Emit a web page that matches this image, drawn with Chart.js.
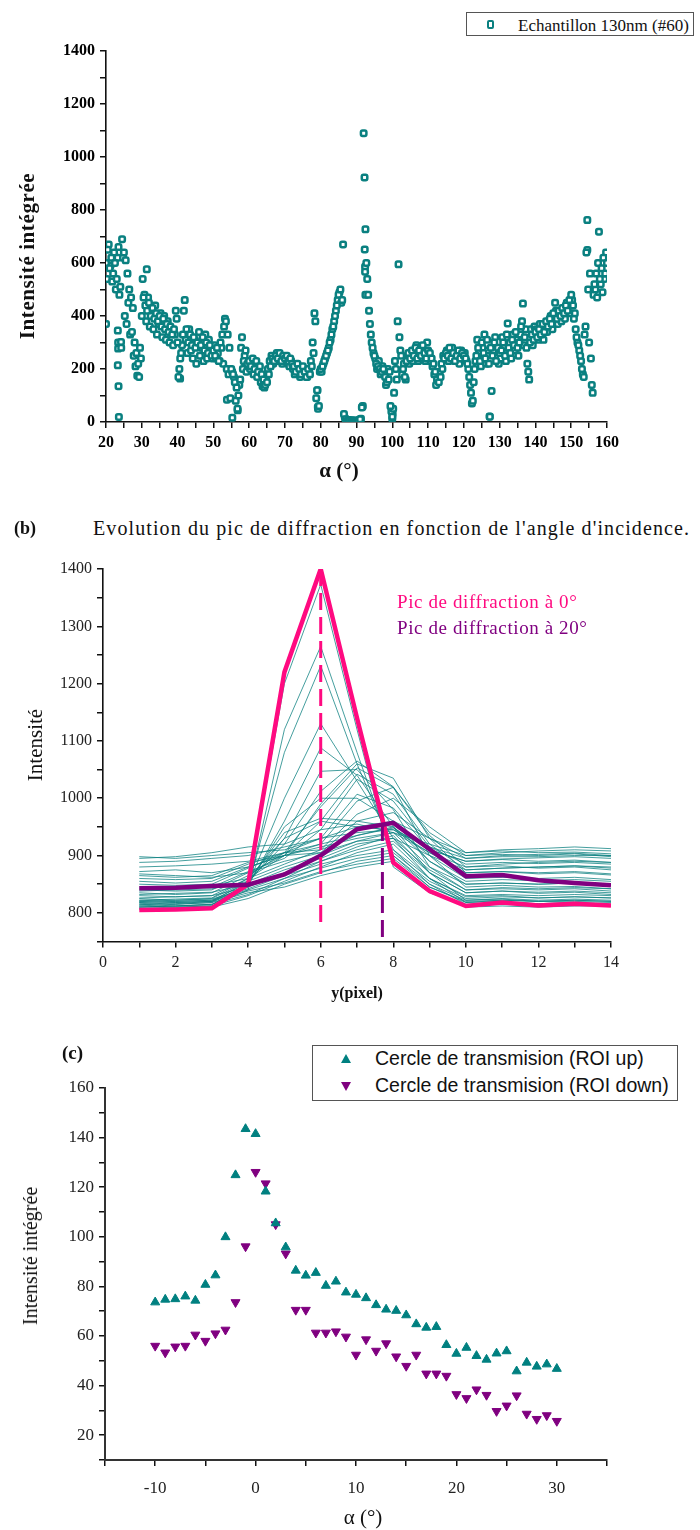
<!DOCTYPE html>
<html>
<head>
<meta charset="utf-8">
<script src="https://cdn.jsdelivr.net/npm/chart.js@4.4.1/dist/chart.umd.min.js"></script>
<style>
  html, body { margin: 0; padding: 0; background: #fff; }
  body { width: 700px; height: 1530px; overflow: hidden; position: relative;
         font-family: "Liberation Serif", "DejaVu Serif", serif; color: #111; }
  canvas { position: absolute; left: 0; }
  .txt { position: absolute; white-space: nowrap; line-height: 1; }
  .ctr { transform: translate(-50%, -50%); }
  .rot { transform: translate(-50%, -50%) rotate(-90deg); }
  .lft { transform: translate(0, -50%); }
  .legend { position: absolute; border: 1px solid #555; background: #fff; box-sizing: border-box; }
</style>
</head>
<body>

<canvas id="chartA" width="700" height="490" style="top:0px"></canvas>
<canvas id="chartB" width="700" height="470" style="top:545px"></canvas>
<canvas id="chartC" width="700" height="515" style="top:1030px"></canvas>

<!-- panel (a) texts -->
<div class="legend" style="left:466px; top:12px; width:228px; height:24px;">
  <span style="position:absolute; left:20px; top:7px; width:3px; height:5px; border:2.5px solid #0a8080; border-radius:2px; background:#fff;"></span>
  <span class="txt lft" style="left:51px; top:12px; font-size:17px;">Echantillon 130nm (#60)</span>
</div>
<div class="txt rot" style="left:27px; top:256px; font-size:21px; font-weight:bold; letter-spacing:0.6px;">Intensité intégrée</div>
<div class="txt ctr" style="left:339px; top:470px; font-size:21px; font-weight:bold;">α (°)</div>

<!-- panel (b) texts -->
<div class="txt lft" style="left:14px; top:528px; font-size:18px; font-weight:bold;">(b)</div>
<div class="txt lft" style="left:93px; top:528px; font-size:20px; letter-spacing:1.1px;">Evolution du pic de diffraction en fonction de l'angle d'incidence.</div>
<div class="txt lft" style="left:397px; top:601px; font-size:19px; letter-spacing:0.6px; color:#ff0a80;">Pic de diffraction à 0°</div>
<div class="txt lft" style="left:397px; top:627px; font-size:19px; letter-spacing:0.6px; color:#800080;">Pic de diffraction à 20°</div>
<div class="txt rot" style="left:35px; top:745px; font-size:21px;">Intensité</div>
<div class="txt ctr" style="left:357px; top:993px; font-size:16px; font-weight:bold;">y(pixel)</div>

<!-- panel (c) texts -->
<div class="txt lft" style="left:62px; top:1052px; font-size:19px; font-weight:bold;">(c)</div>
<div class="legend" style="left:312px; top:1045px; width:366px; height:56px; font-family:'Liberation Sans', Arial, sans-serif;">
  <span style="position:absolute; left:28px; top:8px; width:0; height:0; border-left:5px solid transparent; border-right:5px solid transparent; border-bottom:9px solid #008080;"></span>
  <span class="txt lft" style="left:62px; top:13px; font-size:19.5px;">Cercle de transmision (ROI up)</span>
  <span style="position:absolute; left:28px; top:36px; width:0; height:0; border-left:5px solid transparent; border-right:5px solid transparent; border-top:9px solid #800080;"></span>
  <span class="txt lft" style="left:62px; top:40px; font-size:19.5px;">Cercle de transmision (ROI down)</span>
</div>
<div class="txt rot" style="left:30px; top:1256px; font-size:20px;">Intensité intégrée</div>
<div class="txt ctr" style="left:363px; top:1517px; font-size:21px;">α (°)</div>

<script>
// ================================
// DATA (a) : integrated intensity vs alpha
// band1 : alpha = 20, 20.5, ... 160   /   band2 : alpha = 20.25, 20.75, ... 159.75
// ================================
const band1 = [
  600, 650, 580, 620, 560, 600, 540, 660, 510,
  690, 640, 610, 560, 500, 470,
  430, 300, 260, 220, 280, 400,
  470, 440, 420, 450, 400, 430, 390, 410, 380, 400, 360, 390, 350, 370, 340, 360, 330, 350, 420, 300,
  200, 260, 330, 460, 350, 300, 330, 290, 320, 280, 300, 340, 290, 320, 270, 300, 260, 290, 250, 270,
  250, 280, 230, 300, 330, 360, 380, 330, 280, 200, 180, 150, 130, 100, 160, 320, 230, 270, 220, 230,
  210, 240, 200, 230, 190, 210, 180, 160, 140, 150, 180, 210, 240, 230, 250, 240, 260, 230, 250, 240,
  250, 230, 240, 220, 210, 190, 220, 200, 180, 210, 190, 170, 200, 180, 210, 260, 380, 120, 60, 200,
  210, 230, 250, 270, 300, 330, 360, 400, 440, 480, 500, 460, 30, 10, 5, 8, 5, 3, 6, 4,
  5, 10, 55, 1090, 727, 540, 420, 330, 280, 250, 220, 210, 200, 190, 200, 170, 150, 160, 60, 20,
  110, 200, 380, 320, 250, 200, 170, 230, 260, 240, 270, 250, 280, 240, 270, 250, 290, 260, 240, 270,
  260, 240, 220, 190, 160, 150, 170, 200, 240, 260, 250, 280, 240, 260, 230, 250, 270, 240, 260, 250,
  240, 220, 170, 110, 80, 200, 250, 280, 230, 300, 260, 240, 310, 220, 280, 250, 300, 230, 280, 260,
  270, 300, 250, 330, 280, 260, 310, 290, 340, 280, 300, 360, 447, 320, 280, 190, 300, 330, 310, 340,
  320, 350, 330, 370, 340, 380, 360, 390, 370, 410, 450, 390, 420, 400, 430, 410, 440, 420, 460, 480,
  440, 410, 320, 290, 250, 200, 170, 360, 762, 300, 240, 110, 520, 560, 600, 540, 580, 620, 560, 600
];
const band2 = [
  540, 670, 590, 530, 640, 500, 620, 480,
  280, 620, 400, 370, 450, 330,
  340, 250, 210, 175, 170, 240,
  540, 480, 380, 470, 360, 420, 350, 440, 330, 370, 410, 320, 400, 310, 380, 300, 340, 290, 330, 390,
  170, 240, 290, 420, 310, 260, 350, 270, 240, 310, 220, 300, 250, 280, 230, 330, 240, 310, 280, 240,
  290, 240, 260, 230, 280, 220, 390, 200, 180, 90, 190, 170, 80, 50, 140, 280, 200, 250, 190, 210,
  200, 220, 180, 210, 170, 200, 150, 135, 130, 170, 200, 230, 250, 220, 240, 260, 230, 250, 220, 230,
  240, 220, 210, 230, 200, 180, 210, 190, 170, 200, 180, 190, 170, 200, 230, 300, 410, 90, 50, 190,
  190, 220, 240, 260, 280, 310, 350, 380, 420, 460, 490, 450, 670, 15, 8, 6, 4, 7, 5, 3,
  6, 8, 12, 60, 923, 600, 480, 370, 300, 260, 240, 200, 230, 180, 210, 180, 140, 200, 190, 40,
  50, 230, 160, 595, 270, 180, 220, 160, 250, 220, 250, 230, 260, 290, 230, 260, 240, 270, 230, 300,
  250, 230, 210, 180, 140, 160, 190, 220, 250, 240, 270, 230, 250, 280, 240, 230, 260, 220, 270, 240,
  260, 230, 200, 140, 70, 150, 230, 310, 260, 210, 280, 330, 220, 270, 20, 117, 270, 320, 250, 220,
  240, 320, 280, 230, 372, 300, 240, 330, 270, 310, 250, 330, 380, 290, 350, 220, 160, 350, 290, 360,
  350, 310, 370, 340, 310, 360, 340, 370, 400, 350, 390, 420, 370, 400, 380, 420, 390, 450, 440, 410,
  460, 390, 350, 300, 270, 230, 180, 330, 640, 500, 560, 140, 480, 500, 470, 718, 520, 490, 540, 640
];
const alphaOut = [20, 23.3, 23.4, 23.3, 23.5, 23.6, 23.4, 24.2, 31.4, 40.7, 53.8, 55.3, 56.8, 79.1, 79.2, 91.6, 92.3, 92.4, 92.4, 92.5, 100, 100.1, 127.2, 154.5];
const intOut   = [370, 345, 277, 214, 135, 19, 300, 302, 576, 164, 84, 16, 44, 120, 57, 57, 651, 586, 567, 480, 13, 31, 21, 649];

// ================================
// DATA (b) : diffraction peak profiles
// ================================
const yPixel = [1, 2, 3, 4, 5, 6, 7, 8, 9, 10, 11, 12, 13, 14];
const peak0deg  = [805, 806, 808, 850, 1220, 1400, 1140, 888, 838, 812, 818, 813, 816, 813];
const peak20deg = [843, 844, 847, 849, 867, 900, 946, 957, 911, 864, 866, 857, 852, 848];
const peakX = [6, 7.7];
const peakTop = [1400, 955];
const dashBottom = [775, 752];
const otherAngles = [
  [808, 806, 810, 848, 1200, 1373, 1120, 880, 835, 812, 815, 812, 814, 812],
  [812, 810, 812, 840, 1120, 1265, 1080, 900, 845, 818, 820, 816, 818, 815],
  [815, 812, 815, 845, 1080, 1231, 1060, 910, 850, 822, 824, 820, 822, 820],
  [818, 815, 818, 850, 1000, 1130, 1030, 930, 860, 828, 830, 826, 828, 826],
  [820, 818, 820, 848, 960, 1088, 1040, 950, 870, 835, 838, 834, 836, 832],
  [822, 820, 822, 852, 930, 1047, 1050, 980, 880, 840, 842, 840, 842, 838],
  [825, 822, 825, 855, 920, 1012, 1065, 1020, 900, 845, 848, 845, 846, 842],
  [830, 828, 830, 860, 900, 990, 1060, 1035, 930, 870, 872, 868, 870, 866],
  [835, 832, 835, 865, 905, 985, 1053, 1019, 935, 880, 882, 878, 880, 875],
  [840, 838, 840, 870, 900, 960, 1042, 1007, 920, 875, 878, 880, 882, 878],
  [845, 842, 845, 872, 895, 945, 1033, 995, 915, 885, 888, 886, 888, 885],
  [850, 848, 850, 878, 905, 930, 1007, 983, 910, 890, 893, 890, 892, 888],
  [855, 852, 855, 880, 900, 920, 995, 1019, 940, 900, 902, 900, 903, 898],
  [860, 858, 860, 885, 905, 910, 972, 1000, 950, 905, 908, 905, 906, 903],
  [865, 862, 865, 888, 900, 905, 960, 975, 930, 895, 898, 898, 900, 900],
  [898, 895, 900, 905, 910, 930, 950, 960, 930, 905, 910, 912, 915, 912],
  [895, 898, 905, 915, 920, 945, 955, 940, 920, 900, 905, 908, 910, 908],
  [888, 890, 895, 900, 915, 930, 940, 945, 915, 895, 900, 902, 904, 900],
  [880, 882, 885, 890, 905, 920, 935, 948, 910, 890, 894, 896, 898, 895],
  [872, 875, 870, 880, 900, 915, 930, 940, 905, 880, 885, 888, 890, 888],
  [868, 865, 862, 870, 890, 905, 925, 930, 900, 875, 878, 880, 882, 880],
  [806, 808, 810, 825, 850, 870, 890, 900, 850, 815, 818, 816, 818, 815],
  [808, 810, 812, 830, 855, 880, 905, 920, 860, 818, 822, 820, 820, 818],
  [810, 812, 815, 832, 860, 890, 915, 935, 870, 822, 825, 822, 824, 822],
  [812, 815, 818, 835, 845, 865, 880, 890, 840, 810, 812, 810, 812, 812],
  [814, 816, 820, 838, 852, 872, 885, 895, 845, 820, 822, 820, 822, 820],
  [818, 820, 822, 840, 860, 878, 895, 905, 855, 825, 828, 826, 828, 826],
  [820, 822, 824, 842, 865, 885, 900, 910, 860, 830, 832, 830, 832, 830],
  [826, 828, 830, 845, 870, 890, 910, 925, 870, 835, 838, 836, 838, 835],
  [832, 834, 836, 850, 875, 895, 920, 930, 875, 840, 844, 842, 844, 842],
  [838, 840, 842, 855, 880, 900, 925, 940, 880, 850, 852, 850, 852, 848],
  [842, 845, 848, 860, 885, 910, 935, 950, 890, 855, 858, 856, 858, 855],
  [816, 818, 820, 855, 940, 965, 960, 950, 900, 860, 862, 860, 862, 858],
  [822, 824, 826, 860, 930, 960, 950, 945, 905, 870, 872, 870, 872, 868],
  [810, 812, 814, 850, 950, 1000, 1000, 960, 890, 850, 852, 850, 852, 848]
];

// ================================
// DATA (c) : transmission circle
// ================================
const alphaC = [-10, -9, -8, -7, -6, -5, -4, -3, -2, -1, 0, 1, 2, 3, 4, 5, 6, 7, 8, 9, 10,
  11, 12, 13, 14, 15, 16, 17, 18, 19, 20, 21, 22, 23, 24, 25, 26, 27, 28, 29, 30];
const roiUp = [73.6, 74.7, 74.9, 76, 74.3, 80.7, 84.5, 99.9, 124.9, 143.5, 141.5, 118.3, 105.5, 95.8, 86.4, 84.4, 85.5, 80.3, 82, 77.6, 76.7,
  75.3, 72.5, 70.7, 70.2, 68.4, 64.8, 63.4, 63.7, 56.4, 52.9, 55.3, 52, 50.5, 53, 53.9, 45.8, 49.3, 47.7, 48.6, 46.8];
const roiDown = [56, 53.3, 55.7, 56, 60.5, 58, 61, 62.5, 73.6, 96.1, 126.1, 121.5, 105, 93.2, 70.5, 70.5, 61.3, 61.3, 61.8, 59.7, 52.4,
  58.6, 54, 57, 51.7, 47.9, 52.4, 44.8, 44.8, 43.9, 36.5, 34.9, 38.4, 36.2, 29.7, 31.9, 36, 28.6, 26.5, 28, 25.7];

// ================================
// COMMON HELPERS
// ================================
const TEAL = "#0a8080";
const PINK = "#ff0a80";
const PURPLE = "#800080";
const SERIF = "'Liberation Serif', 'Times New Roman', serif";

function axis(opts) {
  return Object.assign({
    type: "linear",
    grid: { drawOnChartArea: false, drawTicks: true, tickLength: 6, color: "#111", lineWidth: 1.5 },
    border: { display: true, color: "#111", width: 1.6 }
  }, opts);
}

const noExtras = {
  legend: { display: false },
  tooltip: { enabled: false },
  title: { display: false }
};

function drawAll() {
  Chart.defaults.font.family = SERIF;

  // ================================
  // CHART (a)
  // ================================
  const pts1 = band1.map((v, i) => ({ x: 20 + i * 0.5, y: v }));
  const pts2 = band2.map((v, i) => ({ x: 20.25 + i * 0.5, y: v }));
  const ptsOut = alphaOut.map((a, i) => ({ x: a, y: intOut[i] }));

  const markerA = {
    pointStyle: "rectRounded",
    pointRadius: 3.2,
    pointBorderWidth: 2.5,
    pointBorderColor: TEAL,
    pointBackgroundColor: "#ffffff",
    showLine: false
  };

  new Chart(document.getElementById("chartA"), {
    type: "scatter",
    data: {
      datasets: [
        Object.assign({ data: pts1 }, markerA),
        Object.assign({ data: pts2 }, markerA),
        Object.assign({ data: ptsOut }, markerA)
      ]
    },
    options: {
      responsive: false,
      animation: false,
      layout: { padding: { top: 51, right: 93, left: 0, bottom: 0 } },
      plugins: noExtras,
      scales: {
        x: axis({
          min: 20, max: 160,
          afterFit: s => { s.height = 68; },
          ticks: {
            stepSize: 5, autoSkip: false, maxRotation: 0, padding: 5, color: "#000",
            font: { family: SERIF, size: 16, weight: "bold" },
            callback: v => (v % 10 === 0 ? v : "")
          }
        }),
        y: axis({
          min: 0, max: 1400,
          afterFit: s => { s.width = 106; },
          ticks: {
            stepSize: 100, autoSkip: false, padding: 5, color: "#000",
            font: { family: SERIF, size: 16, weight: "bold" },
            callback: v => (v % 200 === 0 ? v : "")
          }
        })
      }
    }
  });

  // ================================
  // CHART (b)
  // ================================
  const toXY = arr => arr.map((v, i) => ({ x: yPixel[i], y: v }));

  const dsB = [
    {
      data: [{ x: peakX[0], y: peakTop[0] }, { x: peakX[0], y: dashBottom[0] }],
      borderColor: PINK, borderWidth: 3, borderDash: [17, 7], pointRadius: 0
    },
    {
      data: [{ x: peakX[1], y: peakTop[1] }, { x: peakX[1], y: dashBottom[1] }],
      borderColor: PURPLE, borderWidth: 3, borderDash: [17, 7], pointRadius: 0
    },
    { data: toXY(peak20deg), borderColor: PURPLE, borderWidth: 4.5, pointRadius: 0 },
    { data: toXY(peak0deg), borderColor: PINK, borderWidth: 4.5, pointRadius: 0 }
  ];
  otherAngles.forEach(curve => {
    dsB.push({ data: toXY(curve), borderColor: "rgba(10,128,128,0.85)", borderWidth: 0.9, pointRadius: 0 });
  });

  new Chart(document.getElementById("chartB"), {
    type: "line",
    data: { datasets: dsB },
    options: {
      responsive: false,
      animation: false,
      layout: { padding: { top: 24, right: 89, left: 0, bottom: 0 } },
      plugins: noExtras,
      elements: { line: { tension: 0 } },
      scales: {
        x: axis({
          min: 0, max: 14,
          afterFit: s => { s.height = 73.5; },
          ticks: {
            stepSize: 1, autoSkip: false, maxRotation: 0, padding: 6, color: "#222",
            font: { family: SERIF, size: 16 },
            callback: v => (v % 2 === 0 ? v : "")
          }
        }),
        y: axis({
          min: 750, max: 1400,
          afterFit: s => { s.width = 103; },
          ticks: {
            stepSize: 50, autoSkip: false, padding: 5, color: "#222",
            font: { family: SERIF, size: 16 },
            callback: v => (v % 100 === 0 ? v : "")
          }
        })
      }
    }
  });

  // ================================
  // CHART (c)
  // ================================
  new Chart(document.getElementById("chartC"), {
    type: "scatter",
    data: {
      datasets: [
        {
          data: alphaC.map((a, i) => ({ x: a, y: roiUp[i] })),
          pointStyle: "triangle", pointRadius: 5.2, pointRotation: 0,
          pointBackgroundColor: "#008080", pointBorderColor: "#008080", pointBorderWidth: 1
        },
        {
          data: alphaC.map((a, i) => ({ x: a, y: roiDown[i] })),
          pointStyle: "triangle", pointRadius: 5.2, pointRotation: 180,
          pointBackgroundColor: PURPLE, pointBorderColor: PURPLE, pointBorderWidth: 1
        }
      ]
    },
    options: {
      responsive: false,
      animation: false,
      layout: { padding: { top: 58, right: 93, left: 0, bottom: 0 } },
      plugins: noExtras,
      scales: {
        x: axis({
          min: -15, max: 35,
          afterFit: s => { s.height = 85; },
          border: { display: true, color: "#333", width: 2 },
          ticks: {
            stepSize: 5, autoSkip: false, maxRotation: 0, padding: 12, color: "#222",
            font: { family: SERIF, size: 17 },
            callback: v => (v % 10 === 0 ? v : "")
          }
        }),
        y: axis({
          min: 10, max: 160,
          afterFit: s => { s.width = 105; },
          border: { display: true, color: "#333", width: 2 },
          ticks: {
            stepSize: 10, autoSkip: false, padding: 5, color: "#222",
            font: { family: SERIF, size: 17 },
            callback: v => (v % 20 === 0 ? v : "")
          }
        })
      }
    }
  });
}

// wait for the serif face before drawing on the canvases
Promise.all([
  document.fonts.load("16px 'Liberation Serif'"),
  document.fonts.load("bold 16px 'Liberation Serif'")
]).then(drawAll, drawAll);
</script>
</body>
</html>
